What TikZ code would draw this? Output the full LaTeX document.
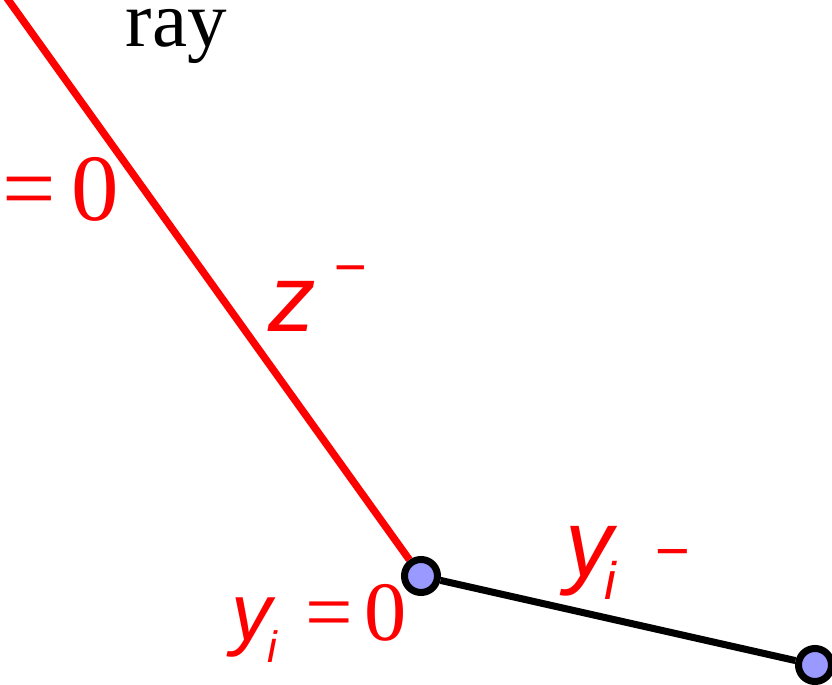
\documentclass[tikz,border=0pt]{standalone}
\usepackage{fontspec}
\setmainfont{Liberation Serif}
\newfontfamily\helv{Liberation Sans}
\usepackage{tikz}
\usetikzlibrary{positioning}
\definecolor{vtxfill}{RGB}{153,153,255}

\begin{document}
\begin{tikzpicture}[
    x=0.01cm, y=-0.01cm,
    vertex/.style={circle, draw=black, fill=vtxfill, line width=2pt, minimum size=0.33cm, inner sep=0pt},
    rayline/.style={draw=red, line width=2.1pt},
    segline/.style={draw=black, line width=2pt},
    lbl/.style={text=red, inner sep=0pt, anchor=base west}
]
    \clip (0,0) rectangle (832,685);

    \coordinate (far) at (4,-6);
    \node[vertex] (yi) at (421,576) {};
    \node[vertex] (yj) at (815,665) {};

    \draw[rayline] (far) -- (yi);
    \draw[segline] (yi) -- (yj);

    \node[lbl, text=black, font=\fontsize{22.5}{24}\selectfont] (raytxt) at (125,47) {ray};
    \node[lbl, font=\fontsize{27}{30}\selectfont] (zeq) at (2,221) {=\hspace{4.3pt}0};
    \node[lbl, font=\fontsize{27}{30}\selectfont] (zlbl) at (268,332)
        {\helv\itshape z\hspace{5pt}\raisebox{12.8pt}{\fontsize{16}{16}\selectfont −}};
    \node[lbl, font=\fontsize{27}{30}\selectfont] (yilbl) at (565,577)
        {\helv\itshape y\hspace{-2.4pt}\raisebox{-6.5pt}{\fontsize{15}{15}\selectfont i}\hspace{10.8pt}\raisebox{1.7pt}{\fontsize{17}{17}\selectfont −}};
    \node[lbl, font=\fontsize{24}{26}\selectfont] (yizero) at (231,641)
        {{\helv\itshape\fontsize{23}{25}\selectfont y\hspace{-1.4pt}\raisebox{-6pt}{\fontsize{12.5}{12.5}\selectfont i}}\hspace{8pt}=\hspace{3.4pt}0};
\end{tikzpicture}
\end{document}
